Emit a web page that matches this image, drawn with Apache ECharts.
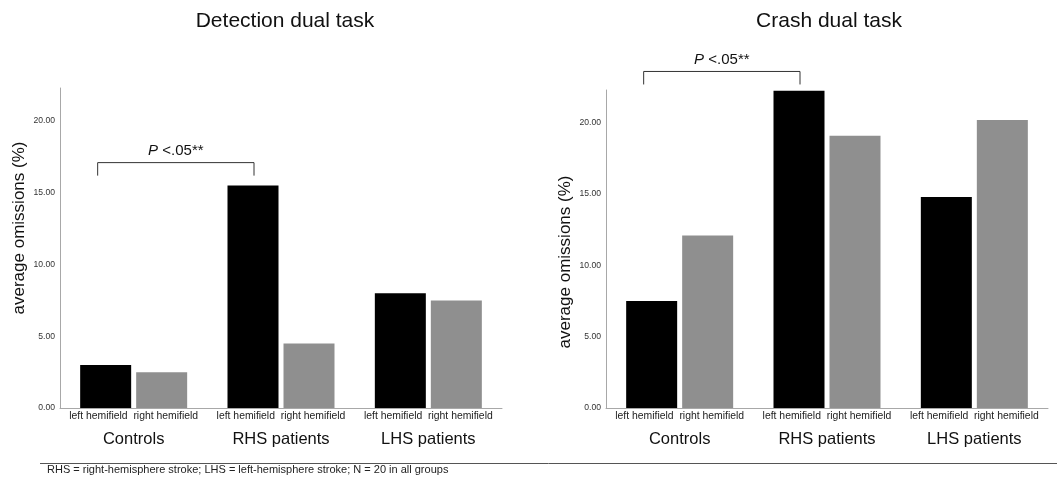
<!DOCTYPE html>
<html>
<head>
<meta charset="utf-8">
<script src="https://cdn.jsdelivr.net/npm/echarts@6/dist/echarts.min.js"></script>
<style>
html,body{margin:0;padding:0;background:#fff;}
#c{width:1057px;height:478px;}
</style>
</head>
<body>
<div id="c"></div>
<script>
// ---- data ----
const groups = ['Controls', 'RHS patients', 'LHS patients'];
const hemifields = ['left hemifield', 'right hemifield'];
const detectionLeft = [3.0, 15.5, 8.0];
const detectionRight = [2.5, 4.5, 7.5];
const crashLeft = [7.5, 22.25, 14.8];
const crashRight = [12.1, 19.1, 20.2];
const yMin = 0, yMax = 22.3, yInterval = 5;
// bracket: [fromGroup, toGroup, level]
const detectionBracket = [[0, 1, 17.1]];
const crashBracket = [[0, 1, 23.6]];
const sigLabel = 'P <.05**';
const titles = ['Detection dual task', 'Crash dual task'];
const yName = 'average omissions (%)';
const footnote = 'RHS = right-hemisphere stroke; LHS = left-hemisphere stroke; N = 20 in all groups';

const FONT = '"Liberation Sans", Arial, sans-serif';
const BAR_W = 51, GAP = 5;
const chart = echarts.init(document.getElementById('c'));

function xAxisCfg(i) {
  return {
    type: 'category', gridIndex: i, data: groups,
    axisLine: {lineStyle: {color: '#a8a8a8', width: 1}},
    axisTick: {show: false},
    axisLabel: {
      margin: 1, interval: 0,
      formatter: v => '{s|' + hemifields[0] + '  ' + hemifields[1] + '}\n{g|' + v + '}',
      rich: {
        s: {fontFamily: FONT, fontSize: 10.4, color: '#222', lineHeight: 14},
        g: {fontFamily: FONT, fontSize: 16.5, color: '#111', lineHeight: 32}
      }
    }
  };
}
function yAxisCfg(i, pad) {
  return {
    type: 'value', gridIndex: i, min: yMin, max: yMax, interval: yInterval,
    name: yName, nameLocation: 'middle', nameGap: 32,
    nameTextStyle: {fontFamily: FONT, fontSize: 17, color: '#111', padding: pad},
    axisLine: {show: true, lineStyle: {color: '#a8a8a8', width: 1}},
    axisTick: {show: false},
    splitLine: {show: false},
    axisLabel: {
      margin: 5, fontFamily: FONT, fontSize: 8.6, color: '#333',
      formatter: v => (v > 20.5 ? '' : v.toFixed(2))
    }
  };
}
function barSeries(i, data, color) {
  return {
    type: 'bar', xAxisIndex: i, yAxisIndex: i, data: data,
    barWidth: BAR_W, barGap: (GAP / BAR_W * 100) + '%',
    itemStyle: {color: color}, silent: true
  };
}
function bracketSeries(i, data) {
  return {
    type: 'custom', xAxisIndex: i, yAxisIndex: i, data: data, silent: true, clip: false,
    encode: {x: 0, y: 2},
    renderItem: function (params, api) {
      const off = -(BAR_W + GAP) / 2;
      const p1 = api.coord([api.value(0), api.value(2)]);
      const p2 = api.coord([api.value(1), api.value(2)]);
      const x1 = p1[0] + off - 8, x2 = p2[0] + off + 1, y = p1[1];
      const drop = 13;
      return {
        type: 'group',
        children: [
          {type: 'polyline', shape: {points: [[x1, y + drop], [x1, y], [x2, y], [x2, y + drop]]},
           style: {stroke: '#333', lineWidth: 1, fill: null}},
          {type: 'text', x: (x1 + x2) / 2, y: y - 12,
           style: {text: '{i|P} <.05**', rich: {i: {fontStyle: 'italic', fontFamily: FONT, fontSize: 15, fill: '#111'}},
                   fontFamily: FONT, fontSize: 15, fill: '#111', align: 'center', verticalAlign: 'middle'}}
        ]
      };
    }
  };
}

chart.setOption({
  backgroundColor: '#fff',
  animation: false,
  grid: [
    {left: 60, top: 88, width: 442, height: 320},
    {left: 606, top: 90, width: 442, height: 318}
  ],
  xAxis: [xAxisCfg(0), xAxisCfg(1)],
  yAxis: [yAxisCfg(0, [0, 0, 0, 40]), yAxisCfg(1, [0, 26, 0, 0])],
  series: [
    barSeries(0, detectionLeft, '#000'),
    barSeries(0, detectionRight, '#8f8f8f'),
    barSeries(1, crashLeft, '#000'),
    barSeries(1, crashRight, '#8f8f8f'),
    bracketSeries(0, detectionBracket),
    bracketSeries(1, crashBracket)
  ],
  graphic: [
    {type: 'text', x: 285, y: 21, style: {text: titles[0], fontFamily: FONT, fontSize: 21, fill: '#111', align: 'center', verticalAlign: 'middle'}},
    {type: 'text', x: 829, y: 21, style: {text: titles[1], fontFamily: FONT, fontSize: 21, fill: '#111', align: 'center', verticalAlign: 'middle'}},
    {type: 'line', shape: {x1: 40, y1: 463.5, x2: 1057, y2: 463.5}, style: {stroke: '#555', lineWidth: 1}},
    {type: 'text', left: 47, top: 464, style: {text: footnote, fontFamily: FONT, fontSize: 11, fill: '#222'}}
  ]
});
</script>
</body>
</html>
